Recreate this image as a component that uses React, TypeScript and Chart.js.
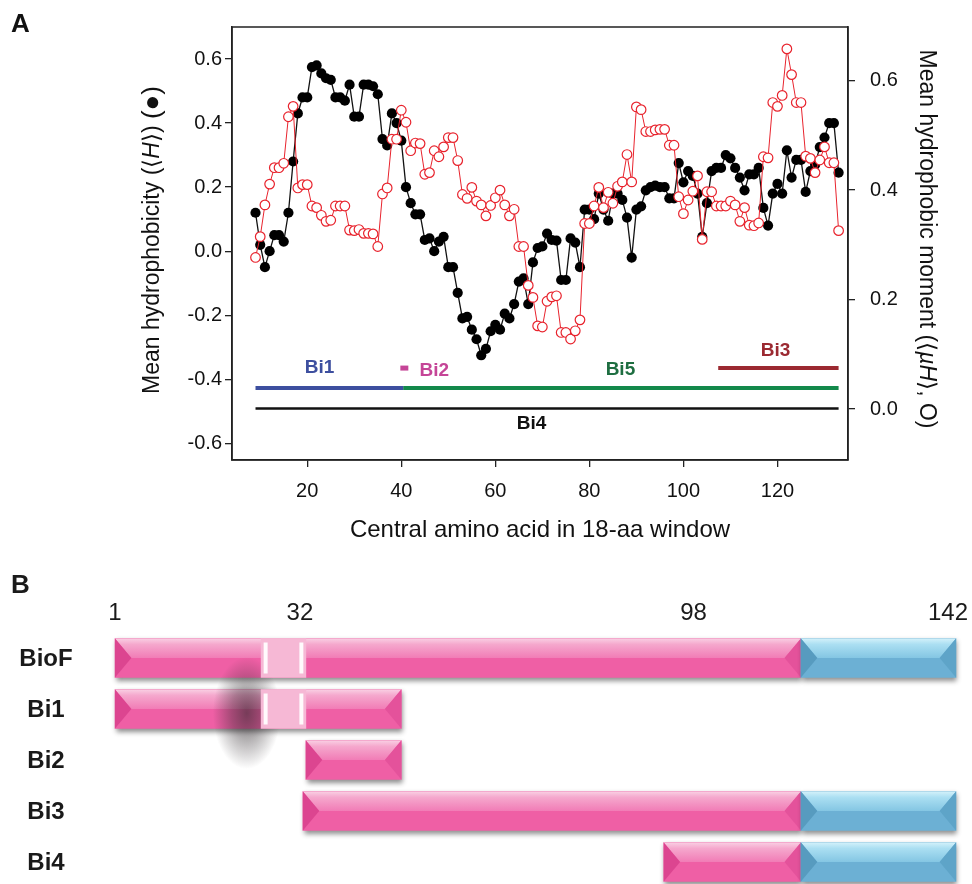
import React, { useEffect, useRef } from 'react';
import { Chart, registerables } from 'chart.js';

Chart.register(...registerables);

const FONT = '"Liberation Sans", Arial, Helvetica, sans-serif';

// ---------------- Panel A data ----------------
const firstWindowCentre = 9;
const meanHydrophobicity = [
  0.12, 0.02, -0.05, 0.0, 0.05, 0.05, 0.03, 0.12, 0.28, 0.43,
  0.48, 0.48, 0.575, 0.58, 0.555, 0.54, 0.535, 0.48, 0.48, 0.47,
  0.52, 0.42, 0.42, 0.52, 0.52, 0.515, 0.49, 0.35, 0.33, 0.43,
  0.4, 0.345, 0.2, 0.15, 0.115, 0.115, 0.035, 0.04, 0.0, 0.03,
  0.045, -0.05, -0.05, -0.13, -0.21, -0.205, -0.245, -0.275, -0.325, -0.305,
  -0.25, -0.23, -0.245, -0.195, -0.21, -0.165, -0.095, -0.085, -0.165, -0.035,
  0.01, 0.015, 0.055, 0.035, 0.033, -0.09, -0.09, 0.04, 0.027, -0.05,
  0.13, 0.13, 0.1, 0.18, 0.13, 0.095, 0.18, 0.18, 0.16, 0.105,
  -0.02, 0.13, 0.14, 0.19, 0.2, 0.205, 0.2, 0.2, 0.165, 0.165,
  0.275, 0.215, 0.25, 0.235, 0.18, 0.045, 0.15, 0.25, 0.26, 0.26,
  0.3, 0.29, 0.26, 0.23, 0.19, 0.24, 0.24, 0.26, 0.135, 0.08,
  0.18, 0.21, 0.18, 0.315, 0.23, 0.285, 0.285, 0.185, 0.25, 0.27,
  0.325, 0.355, 0.4, 0.4, 0.245,
];
const hydrophobicMoment = [
  0.277, 0.315, 0.373, 0.411, 0.441, 0.441, 0.449, 0.534, 0.553, 0.404,
  0.41, 0.41, 0.371, 0.368, 0.354, 0.343, 0.345, 0.371, 0.371, 0.371,
  0.327, 0.326, 0.328, 0.321, 0.321, 0.32, 0.297, 0.393, 0.404, 0.493,
  0.493, 0.546, 0.524, 0.472, 0.486, 0.485, 0.429, 0.432, 0.472, 0.461,
  0.479, 0.496, 0.496, 0.454, 0.392, 0.385, 0.405, 0.38, 0.373, 0.353,
  0.372, 0.386, 0.4, 0.373, 0.353, 0.365, 0.297, 0.297, 0.226, 0.204,
  0.152, 0.15, 0.197, 0.205, 0.207, 0.14, 0.14, 0.128, 0.143, 0.163,
  0.339, 0.339, 0.371, 0.405, 0.368, 0.396, 0.376, 0.407, 0.415, 0.465,
  0.415, 0.552, 0.547, 0.507, 0.507, 0.51, 0.511, 0.511, 0.482, 0.482,
  0.388, 0.357, 0.382, 0.398, 0.426, 0.31, 0.397, 0.397, 0.371, 0.371,
  0.371, 0.38, 0.373, 0.343, 0.368, 0.336, 0.335, 0.34, 0.461, 0.459,
  0.56, 0.553, 0.573, 0.658, 0.611, 0.56, 0.56, 0.462, 0.458, 0.432,
  0.455, 0.479, 0.45, 0.45, 0.326,
];
const xTickValues = [20, 40, 60, 80, 100, 120];
const leftTickValues = [-0.6, -0.4, -0.2, 0, 0.2, 0.4, 0.6];
const rightTickValues = [0, 0.2, 0.4, 0.6];

const segmentNames = ['Bi1', 'Bi2', 'Bi5', 'Bi3', 'Bi4'];
const segmentStart = [9, 39.8, 40.4, 107.4, 9];
const segmentEnd = [40.4, 41.5, 133, 133, 133];
const segmentLevel = [-0.427, -0.365, -0.427, -0.365, -0.491];
const segmentLabelX = [22.6, 47.0, 86.6, 119.6, 67.7];
const segmentLabelY = [-0.363, -0.374, -0.369, -0.311, -0.538];

// ---------------- Panel B data ----------------
const constructNames = ['BioF', 'Bi1', 'Bi2', 'Bi3', 'Bi4'];
const pinkSpans: ([number, number] | null)[] = [[1, 116], [1, 49], [33, 49], [32.5, 116], [93, 116]];
const linkerSpans: ([number, number] | null)[] = [[25.5, 33], [25.5, 33], null, null, null];
const blueSpans: ([number, number] | null)[] = [[116, 142], null, null, [116, 142], [116, 142]];
const residueTicks = [1, 32, 98, 142];

// ---------------- styles ----------------
const segmentStyles: Record<string, { line: string; text: string; width: number }> = {
  Bi1: { line: '#3d4f9f', text: '#3d4f9f', width: 4 },
  Bi2: { line: '#c54597', text: '#c54597', width: 5 },
  Bi5: { line: '#13894b', text: '#1e6e41', width: 4 },
  Bi3: { line: '#9b2931', text: '#9b2931', width: 4 },
  Bi4: { line: '#111111', text: '#111111', width: 2.6 },
};
const RED = '#e8232d';

type Part = { t: string; italic?: boolean; scale?: number };
function drawRich(ctx: CanvasRenderingContext2D, parts: Part[], cx: number, cy: number, angle: number, size: number) {
  ctx.save();
  ctx.translate(cx, cy);
  ctx.rotate(angle);
  ctx.textBaseline = 'middle';
  ctx.textAlign = 'left';
  ctx.fillStyle = '#111';
  const fontOf = (p: Part) => `${p.italic ? 'italic ' : ''}${Math.round(size * (p.scale || 1))}px ${FONT}`;
  let total = 0;
  const widths = parts.map((p) => {
    ctx.font = fontOf(p);
    const w = ctx.measureText(p.t).width;
    total += w;
    return w;
  });
  let xx = -total / 2;
  parts.forEach((p, i) => {
    ctx.font = fontOf(p);
    ctx.fillText(p.t, xx, 0);
    xx += widths[i];
  });
  ctx.restore();
}

const panelAText = {
  id: 'panelAText',
  afterDraw(chart: any) {
    const ctx: CanvasRenderingContext2D = chart.ctx;
    const a = chart.chartArea;
    const xs = chart.scales.x;
    const ys = chart.scales.y;
    ctx.save();
    ctx.strokeStyle = '#222';
    ctx.lineWidth = 1.5;
    ctx.strokeRect(a.left, a.top, a.right - a.left, a.bottom - a.top);

    ctx.fillStyle = '#111';
    ctx.font = `bold 26px ${FONT}`;
    ctx.textBaseline = 'middle';
    ctx.textAlign = 'left';
    ctx.fillText('A', 11, 25);

    ctx.font = `24px ${FONT}`;
    ctx.textAlign = 'center';
    ctx.fillText('Central amino acid in 18-aa window', (a.left + a.right) / 2, 530);

    drawRich(ctx, [
      { t: 'Mean hydrophobicity (⟨' },
      { t: 'H', italic: true },
      { t: '⟩) ' },
      { t: '(●)', scale: 1.12 },
    ], 153, 240, -Math.PI / 2, 23);

    drawRich(ctx, [
      { t: 'Mean hydrophobic moment (⟨' },
      { t: 'µH', italic: true },
      { t: '⟩, O)' },
    ], 926, 239, Math.PI / 2, 22.5);

    ctx.font = `bold 19px ${FONT}`;
    ctx.textAlign = 'center';
    ctx.textBaseline = 'middle';
    segmentNames.forEach((n, i) => {
      ctx.fillStyle = segmentStyles[n].text;
      ctx.fillText(n, xs.getPixelForValue(segmentLabelX[i]), ys.getPixelForValue(segmentLabelY[i]));
    });
    ctx.restore();
  },
};

type Shade = { hi0: string; hi1: string; hi2: string; left: string; right: string };
const pinkShade: Shade = { hi0: '#f9cfe3', hi1: '#f5a8cd', hi2: '#f17cb6', left: '#dc4590', right: '#e4529b' };
const blueShade: Shade = { hi0: '#d3f1fa', hi1: '#abdff2', hi2: '#84c6e3', left: '#579bbf', right: '#5ea4c8' };

function bevel(ctx: CanvasRenderingContext2D, L: number, R: number, T: number, B: number, c: Shade) {
  const h = B - T;
  const mid = T + h * 0.5;
  const b = Math.min(h * 0.42, (R - L) / 3);
  const g = ctx.createLinearGradient(0, T, 0, mid);
  g.addColorStop(0, c.hi0);
  g.addColorStop(0.3, c.hi1);
  g.addColorStop(1, c.hi2);
  ctx.fillStyle = g;
  ctx.beginPath();
  ctx.moveTo(L, T);
  ctx.lineTo(R, T);
  ctx.lineTo(R - b, mid);
  ctx.lineTo(L + b, mid);
  ctx.closePath();
  ctx.fill();
  ctx.fillStyle = c.left;
  ctx.beginPath();
  ctx.moveTo(L, T);
  ctx.lineTo(L + b, mid);
  ctx.lineTo(L, B);
  ctx.closePath();
  ctx.fill();
  ctx.fillStyle = c.right;
  ctx.beginPath();
  ctx.moveTo(R, T);
  ctx.lineTo(R - b, mid);
  ctx.lineTo(R, B);
  ctx.closePath();
  ctx.fill();
}

function drawBlob(chart: any) {
  const ctx: CanvasRenderingContext2D = chart.ctx;
  const cx = chart.scales.x.getPixelForValue(23.1);
  const cy = chart.scales.y.getPixelForValue(1) + 4;
  const rx = 34;
  const ry = 56;
  ctx.save();
  ctx.translate(cx, cy);
  ctx.scale(1, ry / rx);
  const g = ctx.createRadialGradient(0, 0, 0, 0, 0, rx);
  g.addColorStop(0, 'rgba(45,38,42,0.62)');
  g.addColorStop(0.45, 'rgba(45,38,42,0.38)');
  g.addColorStop(1, 'rgba(45,38,42,0)');
  ctx.fillStyle = g;
  ctx.beginPath();
  ctx.arc(0, 0, rx, 0, Math.PI * 2);
  ctx.fill();
  ctx.restore();
}

const panelBDecor = {
  id: 'panelBDecor',
  beforeDatasetDraw(chart: any, args: any) {
    const ds = chart.data.datasets[args.index];
    const ctx: CanvasRenderingContext2D = chart.ctx;
    if (ds.label === 'linker') drawBlob(chart);
    ctx.save();
    if (ds.label !== 'linker') {
      ctx.shadowColor = 'rgba(0,0,0,0.45)';
      ctx.shadowBlur = 5;
      ctx.shadowOffsetX = 1;
      ctx.shadowOffsetY = 3;
    }
  },
  afterDatasetDraw(chart: any, args: any) {
    const ctx: CanvasRenderingContext2D = chart.ctx;
    ctx.restore();
    const ds = chart.data.datasets[args.index];
    args.meta.data.forEach((el: any, i: number) => {
      if (ds.data[i] == null) return;
      const p = el.getProps(['x', 'y', 'base', 'height'], true);
      const L = Math.min(p.base, p.x);
      const R = Math.max(p.base, p.x);
      const T = p.y - p.height / 2;
      const B = p.y + p.height / 2;
      ctx.save();
      if (ds.label === 'pink') bevel(ctx, L, R, T, B, pinkShade);
      else if (ds.label === 'blue') bevel(ctx, L, R, T, B, blueShade);
      else {
        ctx.fillStyle = 'rgba(255,255,255,0.92)';
        ctx.fillRect(L + 2.5, T + 4, 4, B - T - 8);
        ctx.fillRect(R - 6.5, T + 4, 4, B - T - 8);
      }
      ctx.restore();
    });
  },
  afterDraw(chart: any) {
    const ctx: CanvasRenderingContext2D = chart.ctx;
    const xs = chart.scales.x;
    const ys = chart.scales.y;
    ctx.save();
    ctx.fillStyle = '#1a1a1a';
    ctx.textBaseline = 'middle';
    ctx.textAlign = 'left';
    ctx.font = `bold 26px ${FONT}`;
    ctx.fillText('B', 11, 26);

    ctx.font = `24px ${FONT}`;
    ctx.textAlign = 'center';
    residueTicks.forEach((r) => {
      const label = String(r);
      const w = ctx.measureText(label).width;
      const px = Math.min(xs.getPixelForValue(r), chart.width - w / 2 - 4);
      ctx.fillText(label, px, 53);
    });

    ctx.font = `bold 24px ${FONT}`;
    constructNames.forEach((n, i) => {
      ctx.fillText(n, 46, ys.getPixelForValue(i) + 1);
    });
    ctx.restore();
  },
};

export default function App() {
  const refA = useRef<HTMLCanvasElement | null>(null);
  const refB = useRef<HTMLCanvasElement | null>(null);

  useEffect(() => {
    if (!refA.current || !refB.current) return;
    const tickFont = { size: 20, family: FONT };

    const segDatasets = segmentNames.map((n, i) => ({
      label: n,
      data: [
        { x: segmentStart[i], y: segmentLevel[i] },
        { x: segmentEnd[i], y: segmentLevel[i] },
      ],
      yAxisID: 'y',
      borderColor: segmentStyles[n].line,
      borderWidth: segmentStyles[n].width,
      pointRadius: 0,
      order: 2,
    }));

    const chartA = new Chart(refA.current, {
      type: 'line',
      data: {
        datasets: [
          {
            label: 'moment',
            data: hydrophobicMoment.map((v, i) => ({ x: firstWindowCentre + i, y: v })),
            yAxisID: 'y2',
            borderColor: RED,
            borderWidth: 1,
            pointRadius: 4.8,
            pointBackgroundColor: '#ffffff',
            pointBorderColor: RED,
            pointBorderWidth: 1.2,
            order: 0,
          },
          {
            label: 'hydrophobicity',
            data: meanHydrophobicity.map((v, i) => ({ x: firstWindowCentre + i, y: v })),
            yAxisID: 'y',
            borderColor: '#111',
            borderWidth: 1.3,
            pointRadius: 5.1,
            pointBackgroundColor: '#000',
            pointBorderColor: '#000',
            pointBorderWidth: 0,
            order: 1,
          },
          ...segDatasets,
        ] as any,
      },
      options: {
        animation: false,
        responsive: false,
        events: [],
        layout: { padding: { top: 16, left: 0, right: 0, bottom: 0 } },
        plugins: { legend: { display: false }, tooltip: { enabled: false } },
        scales: {
          x: {
            type: 'linear',
            min: 4,
            max: 135,
            afterBuildTicks: (s: any) => { s.ticks = xTickValues.map((v) => ({ value: v })); },
            afterFit: (s: any) => { s.height = 100; },
            grid: { drawOnChartArea: false, drawTicks: true, tickLength: 7, color: '#222', lineWidth: 1.3 },
            border: { display: true, color: '#222', width: 1.5 },
            ticks: { font: tickFont, color: '#111', padding: 12, maxRotation: 0, autoSkip: false },
          },
          y: {
            type: 'linear',
            position: 'left',
            min: -0.652,
            max: 0.7,
            afterBuildTicks: (s: any) => { s.ticks = leftTickValues.map((v) => ({ value: v })); },
            afterFit: (s: any) => { s.width = 232; },
            grid: { drawOnChartArea: false, drawTicks: true, tickLength: 7, color: '#222', lineWidth: 1.3 },
            border: { display: true, color: '#222', width: 1.5 },
            ticks: { font: tickFont, color: '#111', padding: 3, callback: (v: any) => Number(v).toFixed(1) },
          },
          y2: {
            type: 'linear',
            position: 'right',
            min: -0.093,
            max: 0.698,
            afterBuildTicks: (s: any) => { s.ticks = rightTickValues.map((v) => ({ value: v })); },
            afterFit: (s: any) => { s.width = 124; },
            grid: { drawOnChartArea: false, drawTicks: true, tickLength: 7, color: '#222', lineWidth: 1.3 },
            border: { display: true, color: '#222', width: 1.5 },
            ticks: { font: tickFont, color: '#111', padding: 15, callback: (v: any) => Number(v).toFixed(1) },
          },
        },
      } as any,
      plugins: [panelAText],
    });

    const chartB = new Chart(refB.current, {
      type: 'bar',
      data: {
        labels: constructNames,
        datasets: [
          { label: 'pink', data: pinkSpans, backgroundColor: '#ef5fa5', order: 3 },
          { label: 'linker', data: linkerSpans, backgroundColor: '#f6b8d5', order: 2 },
          { label: 'blue', data: blueSpans, backgroundColor: '#6cb0d4', order: 1 },
        ].map((d) => ({ ...d, barThickness: 39, grouped: false, borderWidth: 0, borderSkipped: false, clip: false })) as any,
      },
      options: {
        animation: false,
        responsive: false,
        events: [],
        indexAxis: 'y',
        layout: { padding: { top: 72.5, left: 115, right: 16, bottom: 2.5 } },
        plugins: { legend: { display: false }, tooltip: { enabled: false } },
        scales: {
          x: { type: 'linear', min: 1, max: 142, display: false },
          y: { type: 'category', display: false },
        },
      } as any,
      plugins: [panelBDecor],
    });

    return () => {
      chartA.destroy();
      chartB.destroy();
    };
  }, []);

  return (
    <div style={{ position: 'absolute', left: 0, top: 0, width: 972, height: 884, overflow: 'hidden', background: '#fff' }}>
      <canvas ref={refA} width={972} height={560} style={{ position: 'absolute', left: 0, top: 0, width: 972, height: 560 }} />
      <canvas ref={refB} width={972} height={330} style={{ position: 'absolute', left: 0, top: 560, width: 972, height: 330 }} />
    </div>
  );
}
